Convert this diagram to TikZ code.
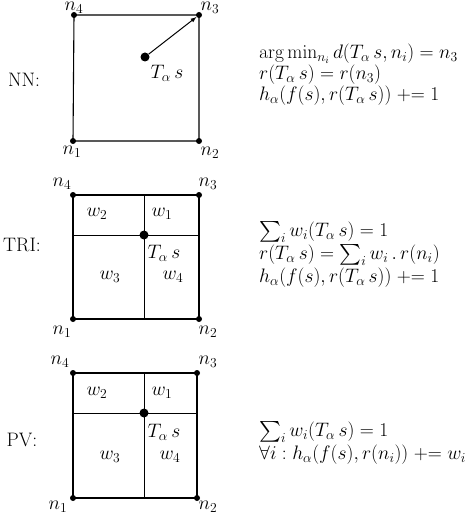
\RequirePackage{fix-cm}
\documentclass[tikz,border=0pt]{standalone}
\usepackage{amsmath}
\begin{document}
\begin{tikzpicture}[x=1pt,y=-1pt,
  txt/.style={inner sep=0pt,font=\fontsize{19.5}{23}\selectfont},
  eq/.style={txt,anchor=west},
  cdot/.style={circle,fill=black,inner sep=0pt,minimum size=6pt},
  bigdot/.style={circle,fill=black,inner sep=0pt,minimum size=9pt},
  edge/.style={line width=1.1pt},
  split/.style={line width=0.9pt}]
\useasboundingbox (0,0) rectangle (474,516);
% ---------- NN ----------
\node[cdot] (a4) at (74,15) {};
\node[cdot] (a3) at (199,15) {};
\node[cdot] (a1) at (73,141) {};
\node[cdot] (a2) at (199,141) {};
\node[bigdot] (ac) at (145,57) {};
\draw[edge] (a1.center) -- (a2.center) -- (a3.center) -- (a4.center) -- cycle;
\draw[line width=1pt,-latex] (ac) -- (a3);
\node[txt] (la4) at (74,8) {$n_4$};
\node[txt] (la3) at (210,8) {$n_3$};
\node[txt] (la1) at (72,152) {$n_1$};
\node[txt] (la2) at (210,153) {$n_2$};
\node[txt] (lac) at (167,73) {$T_\alpha\, s$};
\node[txt] (nn) at (24,80) {NN:};
\node[eq] (e1) at (259,54) {$\arg\min_{n_i} d(T_\alpha\, s, n_i) = n_3$};
\node[eq] (e2) at (259,75) {$r(T_\alpha\, s) = r(n_3)$};
\node[eq] (e3) at (259,96) {$h_\alpha(f(s), r(T_\alpha\, s)) \mathrel{+}= 1$};
% ---------- TRI ----------
\node[cdot] (b4) at (73,195) {};
\node[cdot] (b3) at (199,195) {};
\node[cdot] (b1) at (73,319) {};
\node[cdot] (b2) at (199,319) {};
\node[bigdot] (bc) at (144,235) {};
\coordinate (bt) at (144,195);
\coordinate (bb) at (144,319);
\coordinate (bl) at (73,235);
\coordinate (br) at (199,235);
\draw[edge] (b1.center) -- (b2.center) -- (b3.center) -- (b4.center) -- cycle;
\draw[split] (bt) -- (bb);
\draw[split] (bl) -- (br);
\node[txt] (lb4) at (62,184) {$n_4$};
\node[txt] (lb3) at (208,184) {$n_3$};
\node[txt] (lb1) at (62,332) {$n_1$};
\node[txt] (lb2) at (208,332) {$n_2$};
\node[txt] (wb2) at (97,214) {$w_2$};
\node[txt] (wb1) at (162,214) {$w_1$};
\node[txt] (wb3) at (110,277) {$w_3$};
\node[txt] (wb4) at (173,277) {$w_4$};
\node[txt] (lbc) at (164,253) {$T_\alpha\, s$};
\node[txt] (tri) at (22,245) {TRI:};
\node[eq] (f1) at (259,232) {$\sum_i w_i(T_\alpha\, s) = 1$};
\node[eq] (f2) at (259,255) {$r(T_\alpha\, s) = \sum_i w_i \,.\, r(n_i)$};
\node[eq] (f3) at (259,278) {$h_\alpha(f(s), r(T_\alpha\, s)) \mathrel{+}= 1$};
% ---------- PV ----------
\node[cdot] (c4) at (73,373) {};
\node[cdot] (c3) at (197,373) {};
\node[cdot] (c1) at (73,498) {};
\node[cdot] (c2) at (197,498) {};
\node[bigdot] (cc) at (144,413) {};
\coordinate (ct) at (144,373);
\coordinate (cb) at (144,498);
\coordinate (cl) at (73,413);
\coordinate (cr) at (197,413);
\draw[edge] (c1.center) -- (c2.center) -- (c3.center) -- (c4.center) -- cycle;
\draw[split] (ct) -- (cb);
\draw[split] (cl) -- (cr);
\node[txt] (lc4) at (60,362) {$n_4$};
\node[txt] (lc3) at (208,362) {$n_3$};
\node[txt] (lc1) at (58,507) {$n_1$};
\node[txt] (lc2) at (208,507) {$n_2$};
\node[txt] (wc2) at (97,393) {$w_2$};
\node[txt] (wc1) at (162,393) {$w_1$};
\node[txt] (wc3) at (110,457) {$w_3$};
\node[txt] (wc4) at (170,457) {$w_4$};
\node[txt] (lcc) at (164,432) {$T_\alpha\, s$};
\node[txt] (pv) at (22,440) {PV:};
\node[eq] (g1) at (259,432) {$\sum_i w_i(T_\alpha\, s) = 1$};
\node[eq] (g2) at (259,455) {$\forall i : h_\alpha(f(s), r(n_i)) \mathrel{+}= w_i$};
\end{tikzpicture}
\end{document}
